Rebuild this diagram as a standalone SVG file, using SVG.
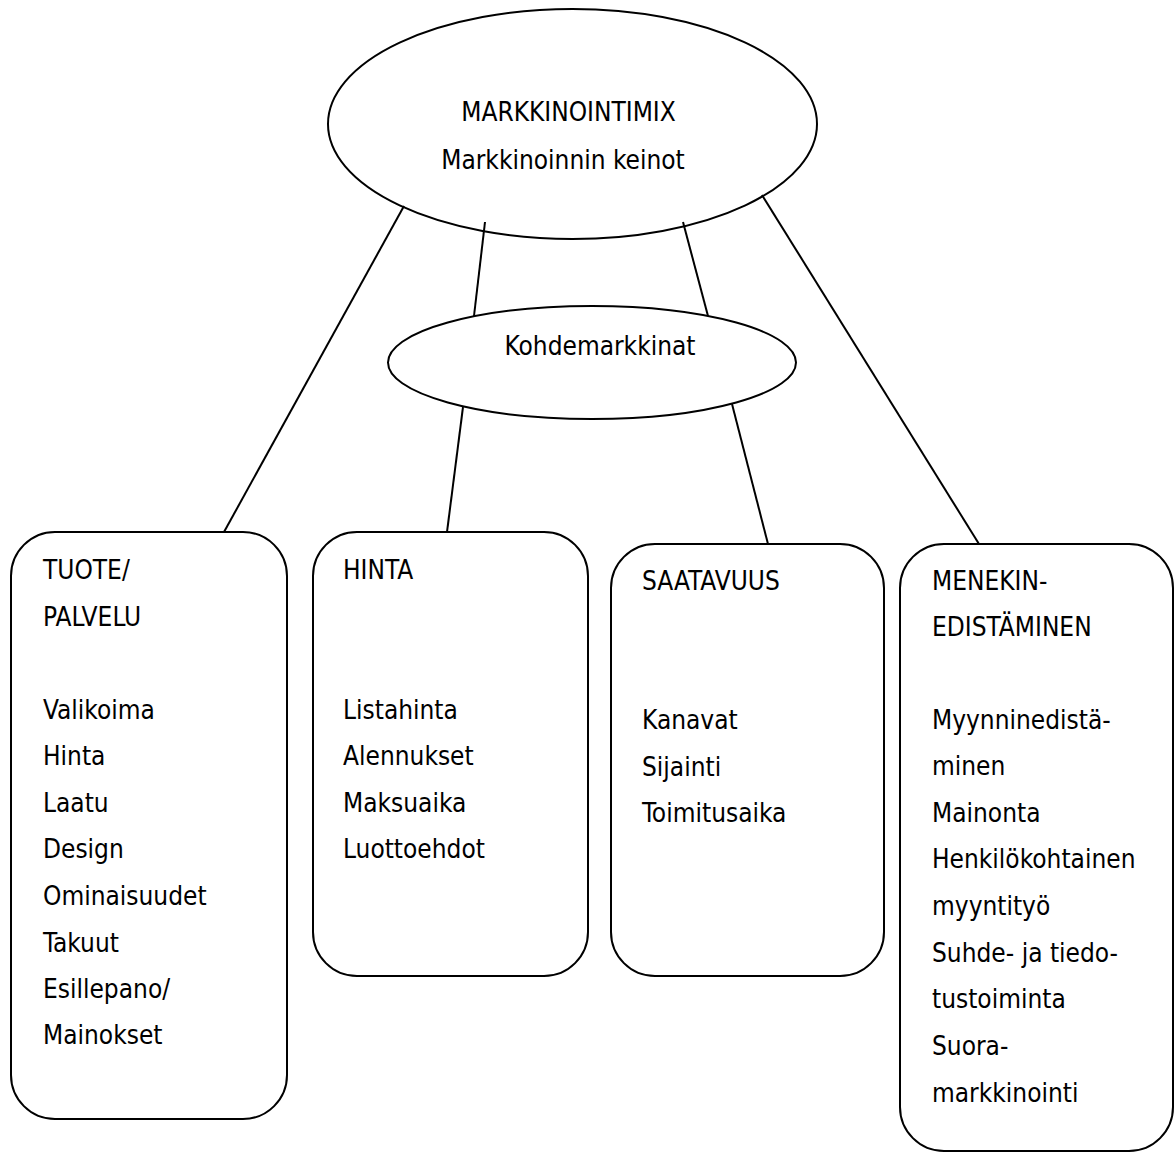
<svg xmlns="http://www.w3.org/2000/svg" width="1175" height="1154" viewBox="0 0 1175 1154">
  <style>
    .shape { fill: #ffffff; stroke: #000000; stroke-width: 2; }
    .conn { stroke: #000000; stroke-width: 2; fill: none; }
    text { font-family: 'DejaVu Sans Condensed', 'DejaVu Sans', sans-serif; font-stretch: condensed; font-size: 26px; fill: #000000; }
    .mid { text-anchor: middle; }
  </style>
  <rect width="1175" height="1154" fill="#ffffff"/>

  <g id="node-markkinointimix">
    <ellipse class="shape" cx="572.5" cy="124" rx="244.5" ry="115"/>
    <text class="mid" x="568.5" y="121">MARKKINOINTIMIX</text>
    <text class="mid" x="563" y="169">Markkinoinnin keinot</text>
  </g>

  <g id="node-kohdemarkkinat">
    <ellipse class="shape" cx="592" cy="362.5" rx="204" ry="56.5"/>
    <text class="mid" x="600" y="355">Kohdemarkkinat</text>
  </g>

  <g id="node-tuote">
    <rect class="shape" x="11" y="532" width="276" height="587" rx="44" ry="44"/>
    <text x="43" y="579">TUOTE/</text>
    <text x="43" y="626">PALVELU</text>
    <text x="43" y="719">Valikoima</text>
    <text x="43" y="765">Hinta</text>
    <text x="43" y="812">Laatu</text>
    <text x="43" y="858">Design</text>
    <text x="43" y="905">Ominaisuudet</text>
    <text x="43" y="952">Takuut</text>
    <text x="43" y="998">Esillepano/</text>
    <text x="43" y="1044">Mainokset</text>
  </g>

  <g id="node-hinta">
    <rect class="shape" x="313" y="532" width="275" height="444" rx="44" ry="44"/>
    <text x="343" y="579">HINTA</text>
    <text x="343" y="719">Listahinta</text>
    <text x="343" y="765">Alennukset</text>
    <text x="343" y="812">Maksuaika</text>
    <text x="343" y="858">Luottoehdot</text>
  </g>

  <g id="node-saatavuus">
    <rect class="shape" x="611" y="544" width="273" height="432" rx="44" ry="44"/>
    <text x="642" y="590">SAATAVUUS</text>
    <text x="642" y="729">Kanavat</text>
    <text x="642" y="776">Sijainti</text>
    <text x="642" y="822">Toimitusaika</text>
  </g>

  <g id="node-menekinedistaminen">
    <rect class="shape" x="900" y="544" width="273" height="607" rx="44" ry="44"/>
    <text x="932" y="590">MENEKIN-</text>
    <text x="932" y="636">EDISTÄMINEN</text>
    <text x="932" y="729">Myynninedistä-</text>
    <text x="932" y="775">minen</text>
    <text x="932" y="822">Mainonta</text>
    <text x="932" y="868">Henkilökohtainen</text>
    <text x="932" y="915">myyntityö</text>
    <text x="932" y="962">Suhde- ja tiedo-</text>
    <text x="932" y="1008">tustoiminta</text>
    <text x="932" y="1055">Suora-</text>
    <text x="932" y="1102">markkinointi</text>
  </g>

  <g id="connectors">
    <line class="conn" x1="404" y1="206" x2="224" y2="532"/>
    <line class="conn" x1="485" y1="222" x2="474" y2="316"/>
    <line class="conn" x1="683" y1="222" x2="708" y2="316"/>
    <line class="conn" x1="762" y1="195" x2="979" y2="544"/>
    <line class="conn" x1="463" y1="407" x2="447" y2="532"/>
    <line class="conn" x1="732" y1="404" x2="768" y2="544"/>
  </g>
</svg>
